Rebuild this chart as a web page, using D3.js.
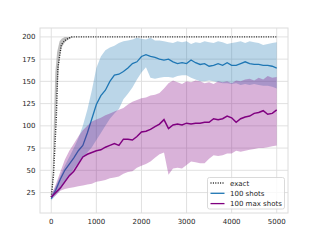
<!DOCTYPE html>
<html>
<head>
<meta charset="utf-8">
<script src="https://cdn.jsdelivr.net/npm/d3@7"></script>
<style>
  body { margin: 0; background: #fff; }
  text { font-family: "DejaVu Sans", sans-serif; fill: #262626; }
</style>
</head>
<body>
<div id="chart"></div>
<script>
// exact curve and its gray band
var exactX = [0, 50, 111, 147, 222, 300, 407, 450, 5000]
var exactY = [20, 45, 108, 165, 191, 196, 199, 200, 200]
var grayX = [0, 30, 60, 90, 130, 185, 230, 300, 400, 500, 5000]
var grayHi = [20, 50, 108, 160, 183, 195, 198, 200, 200, 200, 200]
var grayLo = [20, 32, 62, 95, 140, 178, 188, 194, 198, 200, 200]

// steps 0..5000 every 100
var steps = d3.range(0, 5001, 100)

var shots = [18, 28, 40, 50, 57, 64, 72, 78, 92, 108, 124, 134, 140, 150, 157, 158, 161, 165, 170, 172,
  178, 180, 178, 177, 175, 174, 175, 172, 170, 171, 170, 174, 171, 169, 170, 167, 168, 170, 168, 171,
  168, 168, 170, 172, 170, 169, 169, 168, 168, 167, 165]
var shotsHi = [22, 32, 44, 55, 65, 75, 86, 100, 118, 140, 165, 178, 185, 188, 190, 193, 195, 196, 197, 199,
  198, 197, 199, 196, 196, 195, 194, 193, 195, 194, 195, 192, 194, 193, 195, 194, 193, 195, 194, 192,
  193, 194, 195, 193, 195, 194, 193, 191, 192, 193, 194]
var shotsLo = [16, 22, 28, 36, 44, 52, 58, 64, 70, 76, 84, 92, 100, 108, 114, 119, 130, 136, 143, 152,
  160, 166, 154, 153, 154, 155, 155, 154, 156, 157, 157, 154, 152, 150, 150, 151, 150, 149, 148, 148,
  147, 148, 146, 147, 146, 147, 146, 145, 145, 144, 142]

var maxShots = [20, 25, 30, 37, 44, 49, 57, 65, 68, 70, 72, 73, 76, 78, 80, 78, 85, 85, 84, 88,
  93, 94, 96, 99, 102, 107, 97, 101, 102, 101, 103, 102, 103, 103, 104, 104, 108, 107, 108, 111,
  109, 104, 108, 110, 111, 114, 115, 117, 113, 114, 118]
var maxShotsHi = [22, 34, 48, 62, 72, 80, 88, 95, 100, 105, 107, 109, 112, 114, 116, 118, 120, 124, 127, 129,
  131, 132, 134, 135, 137, 142, 148, 151, 149, 147, 150, 149, 151, 150, 148, 149, 147, 150, 149, 150,
  148, 151, 150, 152, 153, 151, 154, 152, 156, 154, 155]
var maxShotsLo = [18, 22, 27, 29, 30, 31, 32, 33, 34, 35, 37, 38, 39, 41, 42, 43, 46, 48, 49, 53,
  55, 57, 60, 64, 68, 70, 45, 52, 53, 52, 56, 60, 59, 58, 58, 63, 67, 66, 67, 69,
  69, 72, 71, 72, 73, 74, 75, 75, 76, 77, 78]

var xTicks = [0, 1000, 2000, 3000, 4000, 5000]
var yTicks = [25, 50, 75, 100, 125, 150, 175, 200]

var width = 320, height = 240
var margin = { top: 28, left: 40, right: 32, bottom: 27 }

var svg = d3.select("#chart")
  .append("svg")
  .attr("width", width)
  .attr("height", height)

var x = d3.scaleLinear().domain([-250, 5250]).range([margin.left, width - margin.right])
var y = d3.scaleLinear().domain([2, 210]).range([height - margin.bottom, margin.top])

// grid
svg.append("g").selectAll("line").data(xTicks).enter().append("line")
  .attr("x1", d => x(d)).attr("x2", d => x(d))
  .attr("y1", margin.top).attr("y2", height - margin.bottom)
  .attr("stroke", "#dedede").attr("stroke-width", 0.9)
svg.append("g").selectAll("line").data(yTicks).enter().append("line")
  .attr("x1", margin.left).attr("x2", width - margin.right)
  .attr("y1", d => y(d)).attr("y2", d => y(d))
  .attr("stroke", "#dedede").attr("stroke-width", 0.9)

// frame
svg.append("rect")
  .attr("x", margin.left).attr("y", margin.top)
  .attr("width", width - margin.left - margin.right)
  .attr("height", height - margin.top - margin.bottom)
  .attr("fill", "none").attr("stroke", "#dcdcdc").attr("stroke-width", 1)

// tick labels
svg.append("g").selectAll("text").data(xTicks).enter().append("text")
  .attr("x", d => x(d)).attr("y", height - margin.bottom + 11)
  .attr("text-anchor", "middle").attr("font-size", 7)
  .text(d => d)
svg.append("g").selectAll("text").data(yTicks).enter().append("text")
  .attr("x", margin.left - 4.5).attr("y", d => y(d) + 2.5)
  .attr("text-anchor", "end").attr("font-size", 7)
  .text(d => d)

function band(xs, lo, hi) {
  return d3.area()
    .x((d, i) => x(xs[i]))
    .y0((d, i) => y(lo[i]))
    .y1((d, i) => y(hi[i]))(xs)
}
function curve(xs, ys) {
  return d3.line()
    .x((d, i) => x(xs[i]))
    .y((d, i) => y(ys[i]))(xs)
}

// exact
svg.append("path").attr("d", band(grayX, grayLo, grayHi))
  .attr("fill", "#808080").attr("fill-opacity", 0.5)
svg.append("path").attr("d", curve(exactX, exactY))
  .attr("fill", "none").attr("stroke", "#222").attr("stroke-width", 1.4)
  .attr("stroke-dasharray", "1,1.4")

// 100 shots
svg.append("path").attr("d", band(steps, shotsLo, shotsHi))
  .attr("fill", "#1f77b4").attr("fill-opacity", 0.3)
svg.append("path").attr("d", curve(steps, shots))
  .attr("fill", "none").attr("stroke", "#1f77b4").attr("stroke-width", 1.3)

// 100 max shots
svg.append("path").attr("d", band(steps, maxShotsLo, maxShotsHi))
  .attr("fill", "purple").attr("fill-opacity", 0.3)
svg.append("path").attr("d", curve(steps, maxShots))
  .attr("fill", "none").attr("stroke", "purple").attr("stroke-width", 1.5)

// legend
var legend = svg.append("g").attr("transform", "translate(207.5,177.5)")
legend.append("rect")
  .attr("width", 77).attr("height", 31.5).attr("rx", 2)
  .attr("fill", "#fff").attr("fill-opacity", 0.8)
  .attr("stroke", "#d0d0d0").attr("stroke-width", 0.8)
var entries = [
  { name: "exact", color: "#222", dash: "1,1.4" },
  { name: "100 shots", color: "#1f77b4", dash: null },
  { name: "100 max shots", color: "purple", dash: null }
]
entries.forEach(function (e, i) {
  var yy = 5.5 + i * 10.3
  legend.append("line")
    .attr("x1", 3).attr("x2", 17).attr("y1", yy).attr("y2", yy)
    .attr("stroke", e.color).attr("stroke-width", 1.3)
    .attr("stroke-dasharray", e.dash)
  legend.append("text")
    .attr("x", 22.5).attr("y", yy + 2.5)
    .attr("font-size", 7)
    .text(e.name)
})
</script>
</body>
</html>
